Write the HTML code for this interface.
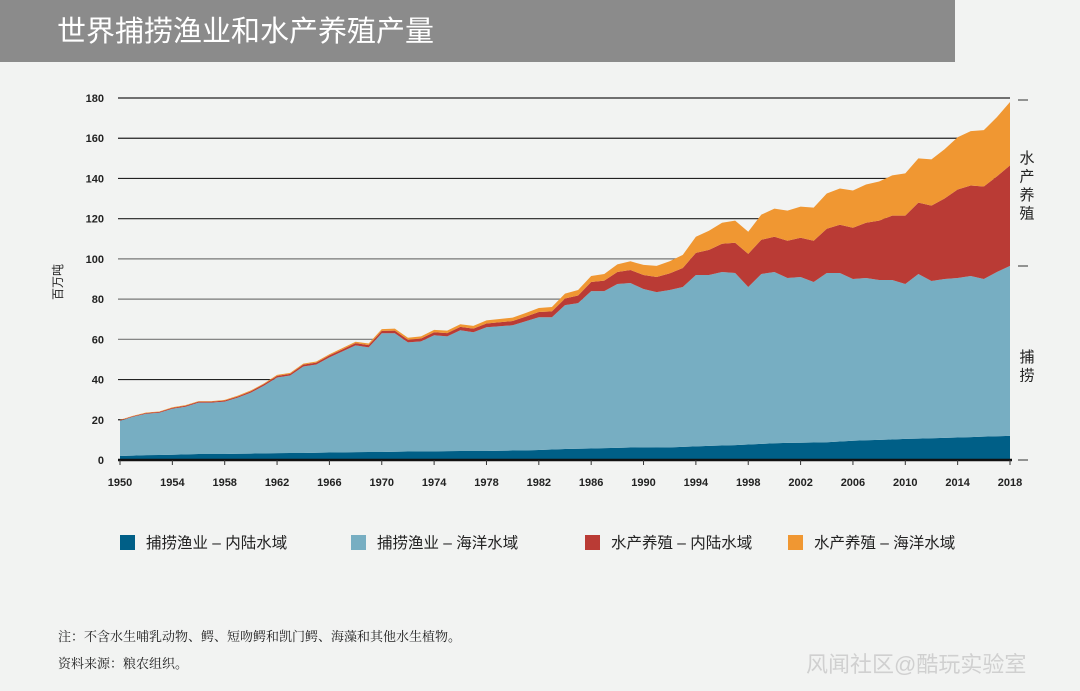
<!DOCTYPE html>
<html><head><meta charset="utf-8">
<style>
body{margin:0;width:1080px;height:691px;background:#f2f3f2;overflow:hidden;font-family:"Liberation Sans","Noto Sans CJK SC",sans-serif;position:relative}
#hdr{position:absolute;left:0;top:0;width:955px;height:62px;background:#8b8b8b}
#hdr span{position:absolute;left:57px;top:8px;color:#fff;font-size:29px}
.note{position:absolute;left:58px;font-size:13px;color:#222;font-family:"Liberation Serif","Noto Serif CJK SC",serif}
#wm{position:absolute;left:806px;top:647px;font-size:22px;color:#d0d0d0}
</style></head><body>
<div id="hdr"><span>世界捕捞渔业和水产养殖产量</span></div>
<svg id="chart" width="1080" height="691" style="position:absolute;left:0;top:0"></svg>
<div class="note" style="top:626px">注：不含水生哺乳动物、鳄、短吻鳄和凯门鳄、海藻和其他水生植物。</div>
<div class="note" style="top:653px">资料来源：粮农组织。</div>
<div id="wm">风闻社区@酷玩实验室</div>
<script>
const startYear = 1950;
const inlandCapture = [2,2.2,2.4,2.5,2.6,2.8,3,3,3,3.1, 3.2,3.3,3.4,3.5,3.5,3.6,3.7,3.8,3.9,4, 4,4.1,4.2,4.3,4.3,4.4,4.5,4.5,4.5,4.6, 4.7,4.8,5,5.2,5.5,5.6,5.7,5.9,6,6.2, 6.3,6.2,6.3,6.5,6.8,7,7.2,7.4,7.7,8, 8.3,8.5,8.6,8.7,8.8,9.2,9.6,9.8,10,10.2, 10.5,10.6,10.8,11,11.2,11.4,11.6,11.8,12];
const marineCapture = [17.5,19.3,20.6,21,22.9,23.7,25.5,25.5,26,27.9, 30.3,33.7,37.6,38.5,43,43.9,47.3,50.2,53.1,52, 59,58.9,54.3,54.7,57.7,57.1,60,59,61.5,61.9, 62.3,64.2,66,65.8,71.5,72.4,78.3,78.1,81.5,81.8, 78.7,77.3,78.2,79.5,85.2,85,86.3,85.6,78.3,84.5, 85.2,82,82.4,79.8,84.2,83.8,80.4,80.7,79.5,79.3, 77,81.9,78.2,79,79.3,80.1,78.4,81.7,84.5];
const inlandAqua = [.3,.3,.4,.4,.4,.5,.5,.5,.6,.6, .7,.7,.8,.8,.9,.9,1,1,1.1,1.1, 1.2,1.3,1.3,1.4,1.5,1.6,1.7,1.8,1.9,2, 2.1,2.3,2.6,2.9,3.3,3.8,4.5,5.2,6,6.5, 7,7.5,8.3,9.5,11,12.5,14,15,16.5,17, 17.5,18.5,19.5,20.5,22,24,25.5,27.5,29.5,32, 34,35.5,37.5,40,44,45,46,47.5,50];
const marineAqua = [.2,.2,.2,.2,.3,.3,.3,.3,.3,.4, .4,.4,.5,.5,.5,.6,.6,.7,.7,.8, .9,1,1,1.1,1.2,1.2,1.3,1.4,1.5,1.6, 1.7,1.8,2,2.2,2.4,2.7,3,3.3,3.8,4.3, 5,5.5,6,6.5,8,9.5,10.5,11,11,12.5, 14,15,15.5,16.5,17.5,18,18.5,19,19.5,20, 21,22,23,24.5,26,27,28,29.5,31.5];
const yTicks = [0,20,40,60,80,100,120,140,160,180];
const xTicks = [1950,1954,1958,1962,1966,1970,1974,1978,1982,1986,1990,1994,1998,2002,2006,2010,2014,2018];
const seriesNames = ["捕捞渔业 – 内陆水域","捕捞渔业 – 海洋水域","水产养殖 – 内陆水域","水产养殖 – 海洋水域"];
const colors = ["#005f87","#77aec2","#ba3b35","#f09732"];

const NS="http://www.w3.org/2000/svg";
const svg=document.getElementById('chart');
const x0=120,x1=1010,y0=460,y1=98;
const xs=yr=>x0+(yr-1950)*(x1-x0)/68;
const ys=v=>y0-v*(y0-y1)/180;
function mk(tag,attrs,parent){const e=document.createElementNS(NS,tag);for(const k in attrs)e.setAttribute(k,attrs[k]);(parent||svg).appendChild(e);return e;}

yTicks.forEach(t=>{
  if(t>0){const g=mk('line',{x1:118,x2:1010,y1:ys(t),y2:ys(t),stroke:t>=120||t<=40?'#222':'#777','stroke-width':1.2});
  
  }
  const l=mk('text',{x:104,y:ys(t)+4,'text-anchor':'end','font-size':11,'font-weight':'bold',fill:'#222'});
  l.textContent=t;
  
  
});

const stacks=[inlandCapture,marineCapture,inlandAqua,marineAqua];
const n=inlandCapture.length;
let base=new Array(n).fill(0);
stacks.forEach((s,i)=>{
  const top=base.map((b,j)=>b+s[j]);
  let d='';
  for(let j=0;j<n;j++)d+=(j?'L':'M')+xs(startYear+j)+','+ys(top[j]);
  for(let j=n-1;j>=0;j--)d+='L'+xs(startYear+j)+','+ys(base[j]);
  const p=mk('path',{d:d+'Z',fill:colors[i]});
  
  
  base=top;
});

const ax=mk('line',{x1:118,x2:1012,y1:460,y2:460,stroke:'#111','stroke-width':2.5});


xTicks.forEach(t=>{
  mk('line',{x1:xs(t),x2:xs(t),y1:460,y2:465,stroke:'#333','stroke-width':1});
  const l=mk('text',{x:xs(t),y:486,'text-anchor':'middle','font-size':11,'font-weight':'bold',fill:'#222'});
  l.textContent=t;
  
  
});
[100,266,460].forEach(y=>mk('line',{x1:1018,x2:1028,y1:y,y2:y,stroke:'#333','stroke-width':1}));

const yt=mk('text',{x:0,y:0,transform:'translate(62,282) rotate(-90)','text-anchor':'middle','font-size':12,fill:'#222'});
yt.textContent='百万吨';



['水','产','养','殖'].forEach((c,i)=>{const t=mk('text',{x:1027,y:163+i*18.5,'text-anchor':'middle','font-size':15,fill:'#222'});t.textContent=c;

});
['捕','捞'].forEach((c,i)=>{const t=mk('text',{x:1027,y:362+i*18.5,'text-anchor':'middle','font-size':15,fill:'#222'});t.textContent=c;

});

const lx=[120,351,585,788];
seriesNames.forEach((nm,i)=>{
  const g=mk('g',{});
  
  
  mk('rect',{x:lx[i],y:535,width:15,height:15,fill:colors[i]},g);
  const t=mk('text',{x:lx[i]+26,y:548,'font-size':15.5,fill:'#222'},g);
  t.textContent=nm;
});
</script>
</body></html>
